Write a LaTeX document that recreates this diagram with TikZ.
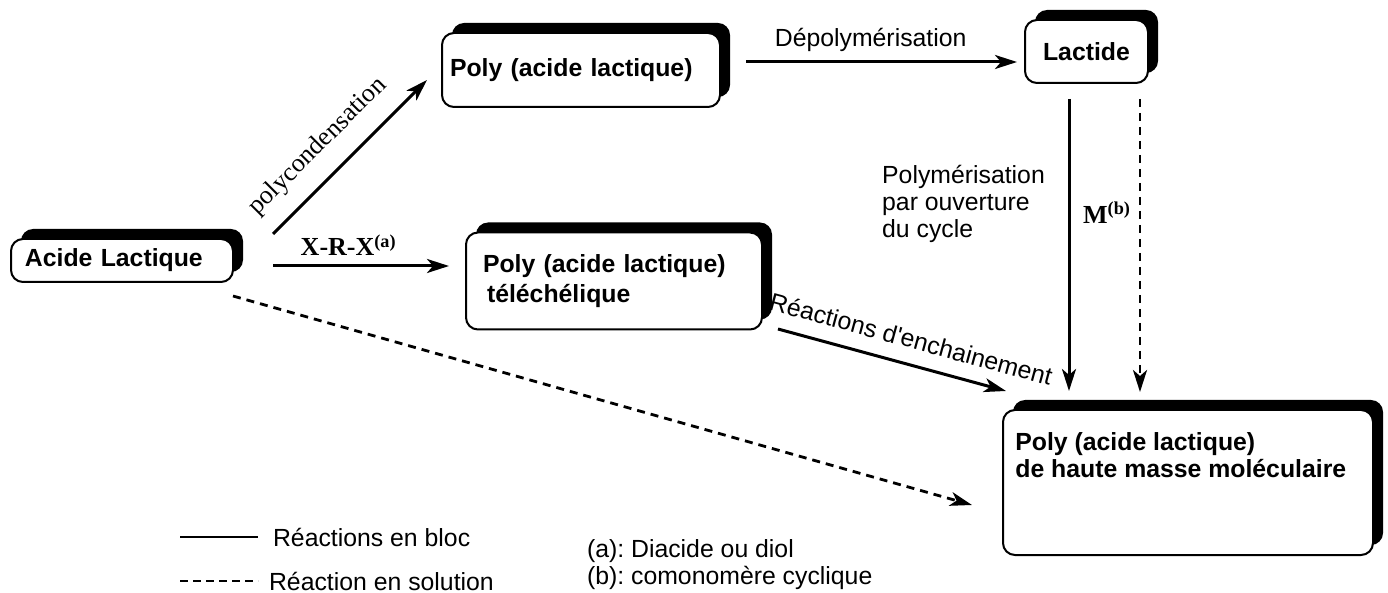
\documentclass[tikz,border=0pt]{standalone}
\usepackage{fontspec}
\setmainfont{Liberation Sans}
\newfontfamily\timesfont{Liberation Serif}
\newfontfamily\plainsans{Liberation Sans}
\usetikzlibrary{arrows.meta,shadows}
\frenchspacing

\begin{document}
\begin{tikzpicture}[x=0.5pt,y=-0.5pt,font=\fontsize{12.4}{15}\selectfont,
    >={Stealth[length=11pt,width=7pt,inset=3pt]},
    stepbox/.style={draw,line width=1pt,rounded corners=6pt,fill=white,
      drop shadow={shadow xshift=5pt,shadow yshift=5pt,opacity=1,fill=black},
      font=\fontsize{12.4}{15}\selectfont\bfseries,inner ysep=0pt,align=left},
    reaction/.style={->,line width=1.5pt},
    solution/.style={->,line width=1.4pt,dash pattern=on 4pt off 3pt},
    serifbold/.style={font=\fontsize{13}{15}\selectfont\timesfont\bfseries}]
    \useasboundingbox (0,0) rectangle (1388,593);
    \node[stepbox,text width=97pt,inner xsep=7pt,minimum height=21.5pt]
      (acide) at (122,260.5) {Acide Lactique};
    \node[stepbox,text width=131pt,inner xsep=4pt,minimum height=37pt]
      (polyA) at (581,70) {Poly (acide lactique)};
    \node[stepbox,text width=53.5pt,inner xsep=4pt,minimum height=31.5pt,align=center]
      (lactide) at (1086.5,51.5) {Lactide};
    \node[stepbox,text width=131pt,inner xsep=8.5pt,minimum height=48.5pt]
      (telech) at (614,281) {Poly (acide lactique)\\\hspace{2pt}téléchélique};
    \node[stepbox,minimum width=185pt,minimum height=72.5pt]
      (final) at (1188,482.5) {};
    \node[anchor=north west,inner sep=0pt,align=left,font=\fontsize{12.4}{13.5}\selectfont\bfseries]
      (finaltext) at ([shift={(13,23)}]final.north west)
      {Poly (acide lactique)\\de haute masse moléculaire};
    \draw[reaction] ([shift={(39,-4)}]acide.north east) --
      node[pos=0.43,sloped,above=5pt,font=\fontsize{13}{15}\selectfont\timesfont] {polycondensation}
      ([shift={(-14,10)}]polyA.west);
    \draw[reaction] ([shift={(39,5.5)}]acide.east) --
      node[pos=0.43,above=1pt,serifbold] {X-R-X\textsuperscript{(a)}}
      ([shift={(-16,-15)}]telech.west);
    \draw[reaction] ([shift={(25,-8)}]polyA.east) --
      node[pos=0.46,above=1pt] {Dépolymérisation}
      ([shift={(-7,10.5)}]lactide.west);
    \draw[reaction] ([shift={(-17.5,15)}]lactide.south) --
      node[pos=0.36,left=8pt,align=left,font=\fontsize{12.4}{13.5}\selectfont]
        {Polymérisation\\par ouverture\\du cycle}
      node[pos=0.39,right=3pt,serifbold] {M\textsuperscript{(b)}}
      ([shift={(-119,-18)}]final.north);
    \draw[solution] ([shift={(53.5,15)}]lactide.south) --
      ([shift={(-48,-17)}]final.north);
    \draw[reaction] ([shift={(15,-1.5)}]telech.south east) --
      node[pos=0.555,sloped,above=4pt] {Réactions d{\plainsans'}enchainement}
      ([shift={(4,-18)}]final.north west);
    \draw[solution] ([shift={(-1,13)}]acide.south east) --
      ([shift={(-30,22.5)}]final.west);
    \coordinate (blocA) at (180,537);
    \coordinate (blocB) at (258,537);
    \coordinate (solA) at (180,581);
    \coordinate (solB) at (258,581);
    \draw[line width=1.4pt] (blocA) -- (blocB);
    \draw[line width=1.4pt,dash pattern=on 4pt off 2.5pt] (solA) -- (solB);
    \node[anchor=west] (bloc) at ([xshift=4pt]blocB) {Réactions en bloc};
    \node[anchor=west] (sol) at ([xshift=2pt]solB) {Réaction en solution};
    \node[anchor=west,align=left,font=\fontsize{12.4}{13.5}\selectfont]
      (notes) at (580,564.5) {(a): Diacide ou diol\\(b): comonomère cyclique};
  \end{tikzpicture}
\end{document}
